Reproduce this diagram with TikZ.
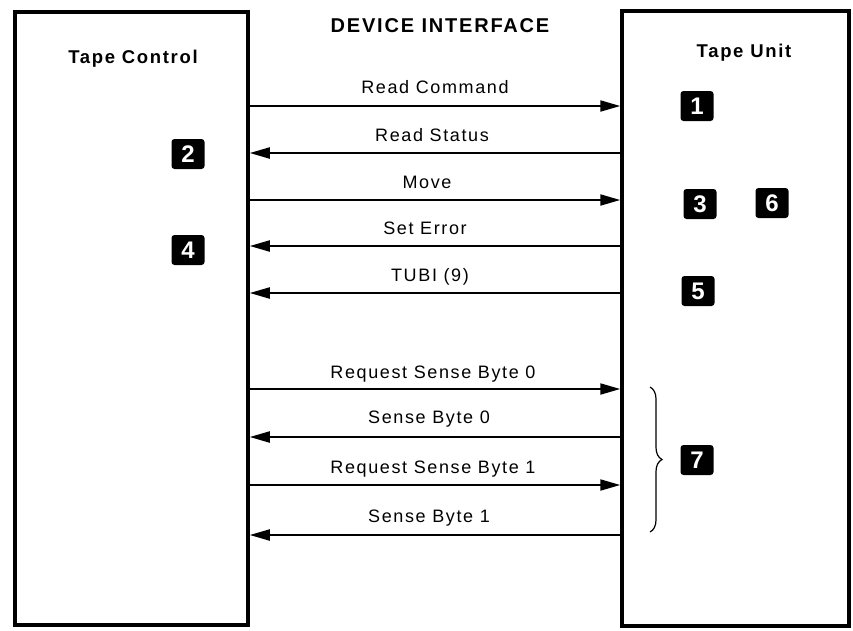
\documentclass[tikz,border=0pt]{standalone}
\usepackage{fontspec}
\setmainfont{Liberation Sans}[LetterSpace=9]
\newfontfamily\numfont{Liberation Sans}[BoldFont={Liberation Sans Bold}]
\usetikzlibrary{arrows.meta,decorations.pathreplacing}
\begin{document}
\begin{tikzpicture}[x=1pt,y=-1pt,
  unitbox/.style={draw, line width=3.5pt, inner sep=0pt},
  sig/.style={line width=2pt, -{Triangle[length=20pt,width=11pt]}},
  lbl/.style={anchor=base, font=\fontsize{18}{18}\selectfont, inner sep=0pt},
  head/.style={anchor=base, font=\bfseries\fontsize{18.5}{18.5}\selectfont, inner sep=0pt},
  numbox/.style={fill=black, rounded corners=3pt, minimum width=33pt, minimum height=30pt, inner sep=0pt,
    text=white, font=\numfont\bfseries\fontsize{24}{24}\selectfont}]
\useasboundingbox (0,0) rectangle (853,630);
\fill[white] (0,0) rectangle (853,630);

% boxes
\node[unitbox, minimum width=233pt, minimum height=613pt] (tc) at (131.5,318.5) {};
\node[unitbox, minimum width=227pt, minimum height=615pt] (tu) at (735.5,318.5) {};

% headings
\node[anchor=base, font=\bfseries\fontsize{20}{20}\selectfont, inner sep=0pt] (title) at (440,32) {DEVICE INTERFACE};
\node[head] (tcl) at (133,63) {Tape Control};
\node[head] (tul) at (744,57) {Tape Unit};

% signals
\draw[sig] (tc.east |- 0,106) -- (tu.west |- 0,106);
\node[lbl] (l1) at (435,93) {Read Command};
\draw[sig] (tu.west |- 0,153) -- (tc.east |- 0,153);
\node[lbl] (l2) at (432,141) {Read Status};
\draw[sig] (tc.east |- 0,200) -- (tu.west |- 0,200);
\node[lbl] (l3) at (427,188) {Move};
\draw[sig] (tu.west |- 0,246) -- (tc.east |- 0,246);
\node[lbl] (l4) at (425,234) {Set Error};
\draw[sig] (tu.west |- 0,293) -- (tc.east |- 0,293);
\node[lbl] (l5) at (430,281) {TUBI (9)};

\draw[sig] (tc.east |- 0,389) -- (tu.west |- 0,389);
\node[lbl] (l6) at (433,378) {Request Sense Byte 0};
\draw[sig] (tu.west |- 0,437) -- (tc.east |- 0,437);
\node[lbl] (l7) at (429,423) {Sense Byte 0};
\draw[sig] (tc.east |- 0,485) -- (tu.west |- 0,485);
\node[lbl] (l8) at (433,473) {Request Sense Byte 1};
\draw[sig] (tu.west |- 0,535) -- (tc.east |- 0,535);
\node[lbl] (l9) at (429,522) {Sense Byte 1};

% brace
\coordinate (bt) at (650,387);
\coordinate (bb) at (650,532);
\draw[line width=1.2pt, decorate, decoration={brace, amplitude=12pt}] (bt) -- (bb);

% numbered markers
\node[numbox] (n1) at (697,106) {1};
\node[numbox] (n2) at (188,154) {2};
\node[numbox] (n3) at (700,204) {3};
\node[numbox] (n4) at (188,250) {4};
\node[numbox] (n5) at (698,291) {5};
\node[numbox] (n6) at (772,203) {6};
\node[numbox] (n7) at (697,460) {7};
\end{tikzpicture}
\end{document}
